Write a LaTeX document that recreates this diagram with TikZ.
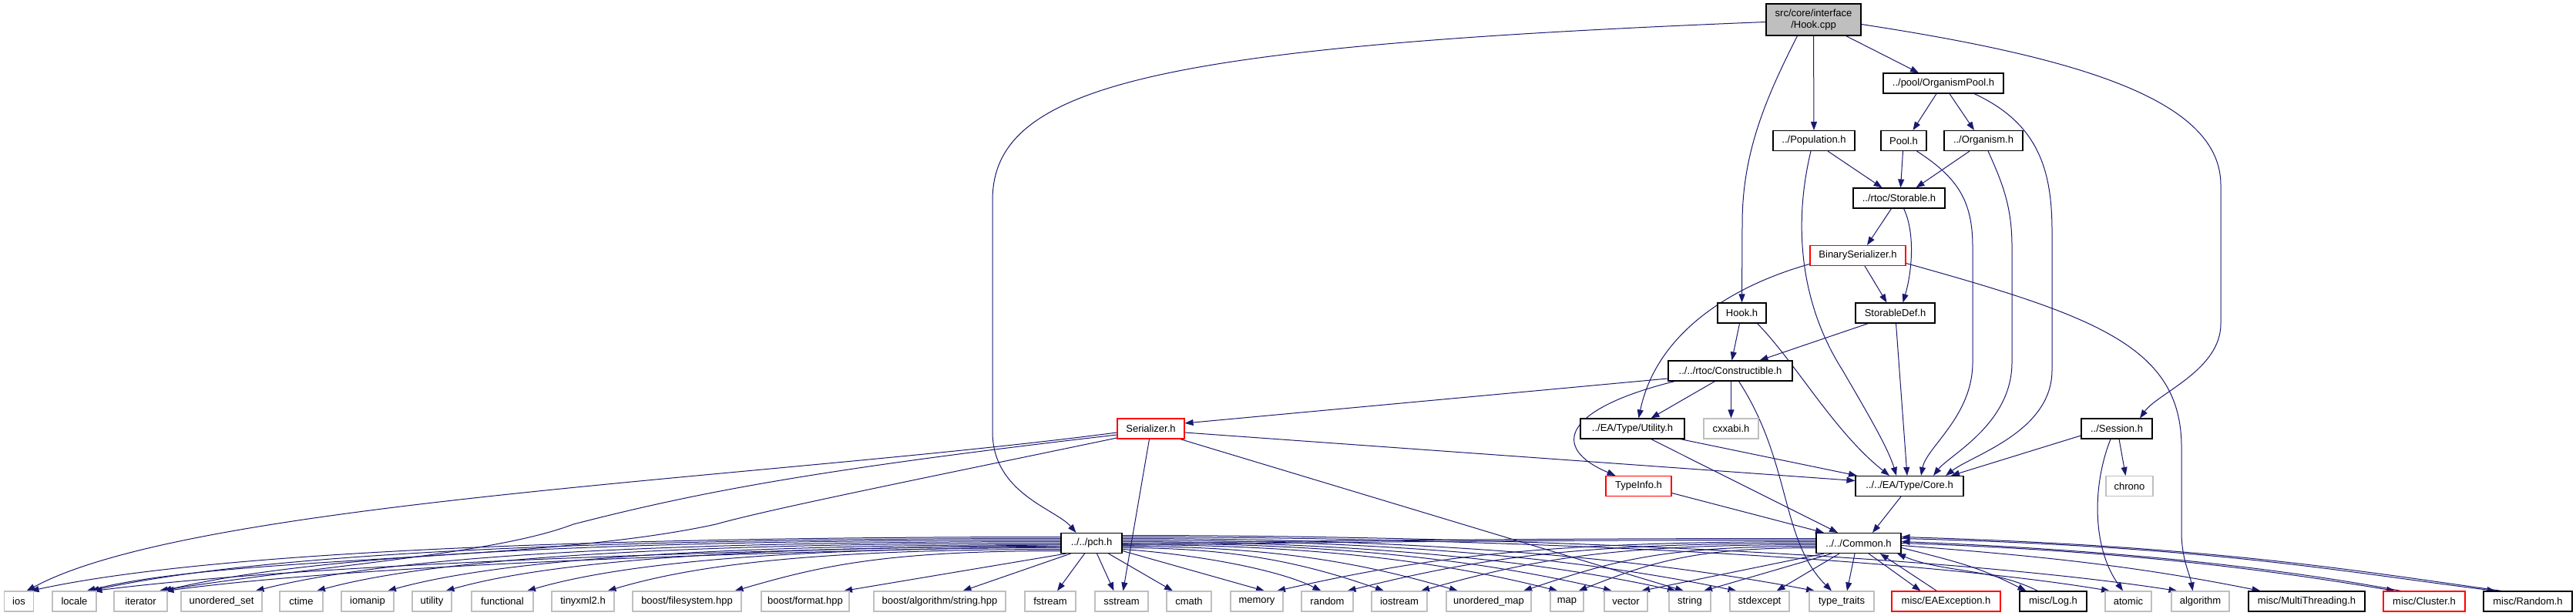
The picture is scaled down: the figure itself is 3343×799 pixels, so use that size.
\documentclass[tikz,border=0pt]{standalone}
\usepackage{fontspec}
\setmainfont{Liberation Sans}
\usetikzlibrary{arrows.meta}
\definecolor{edgec}{HTML}{191970}
\definecolor{grayb}{HTML}{BFBFBF}
\pgfdeclarelayer{bg}
\pgfsetlayers{bg,main}
\tikzset{
 hdr/.style={draw=black, line width=1.1pt, fill=white, rectangle, inner sep=0pt, minimum height=26pt, font=\fontsize{13}{15}\selectfont},
 sys/.style={hdr, draw=grayb},
 trunc/.style={hdr, draw=red},
 e/.style={draw=edgec, line width=1pt, -{Triangle[length=11pt,width=8pt]}},
}
\begin{document}
\begin{tikzpicture}[x=1pt,y=-1pt]
\useasboundingbox (0,0) rectangle (3343,799);
% upper nodes
\node[hdr, fill=grayb, minimum width=123pt, minimum height=41pt, align=center] (hookcpp) at (2353.5,25.5) {src/core/interface\\/Hook.cpp};
\node[hdr, minimum width=156pt] (opool) at (2522,108) {../pool/OrganismPool.h};
\node[hdr, minimum width=106pt] (pop) at (2354,182.5) {../Population.h};
\node[hdr, minimum width=59pt] (pool) at (2470.5,182.5) {Pool.h};
\node[hdr, minimum width=102pt] (organism) at (2574,182.5) {../Organism.h};
\node[hdr, minimum width=119pt] (storable) at (2464.5,257) {../rtoc/Storable.h};
\node[trunc, minimum width=124pt] (binser) at (2411,331.5) {BinarySerializer.h};
\node[hdr, minimum width=63pt] (hookh) at (2260.5,406) {Hook.h};
\node[hdr, minimum width=103pt] (storabledef) at (2459.5,406) {StorableDef.h};
\node[hdr, minimum width=161pt] (constr) at (2245.5,481) {../../rtoc/Constructible.h};
\node[trunc, minimum width=87pt] (serializer) at (1493.5,556) {Serializer.h};
\node[hdr, minimum width=135pt] (utilh) at (2118.5,556) {../EA/Type/Utility.h};
\node[sys, minimum width=71pt] (cxxabi) at (2246.5,556) {cxxabi.h};
\node[hdr, minimum width=92pt] (session) at (2747,556) {../Session.h};
\node[trunc, minimum width=85pt] (typeinfo) at (2126.5,630.5) {TypeInfo.h};
\node[hdr, minimum width=140pt] (core) at (2478,630.5) {../../EA/Type/Core.h};
\node[sys, minimum width=61pt] (chrono) at (2763.5,630.5) {chrono};
\node[hdr, minimum width=79pt] (pch) at (1416.5,704.5) {../../pch.h};
\node[hdr, minimum width=110pt] (common) at (2412,704.5) {../../Common.h};
% bottom row
\node[sys, minimum width=38pt] (ios) at (24.5,780) {ios};
\node[sys, minimum width=57pt] (locale) at (96.5,780) {locale};
\node[sys, minimum width=69pt] (iter) at (182.5,780) {iterator};
\node[sys, minimum width=105pt] (uset) at (287.5,780) {unordered\_set};
\node[sys, minimum width=56pt] (ctime) at (391,780) {ctime};
\node[sys, minimum width=68pt] (iomanip) at (477,780) {iomanip};
\node[sys, minimum width=51pt] (util) at (560.5,780) {utility};
\node[sys, minimum width=80pt] (func) at (652,780) {functional};
\node[sys, minimum width=81pt] (tinyxml) at (756.5,780) {tinyxml2.h};
\node[sys, minimum width=141pt] (bfs) at (891.5,780) {boost/filesystem.hpp};
\node[sys, minimum width=114pt] (bfmt) at (1045,780) {boost/format.hpp};
\node[sys, minimum width=171pt] (balg) at (1219.5,780) {boost/algorithm/string.hpp};
\node[sys, minimum width=66pt] (fstream) at (1363,780) {fstream};
\node[sys, minimum width=69pt] (sstream) at (1455.5,780) {sstream};
\node[sys, minimum width=58pt] (cmath) at (1543,780) {cmath};
\node[sys, minimum width=68pt] (memory) at (1631,780) {memory};
\node[sys, minimum width=67pt] (random) at (1722.5,780) {random};
\node[sys, minimum width=72pt] (iostream) at (1816,780) {iostream};
\node[sys, minimum width=110pt] (umap) at (1932,780) {unordered\_map};
\node[sys, minimum width=43pt] (map) at (2033.5,780) {map};
\node[sys, minimum width=56pt] (vector) at (2110,780) {vector};
\node[sys, minimum width=54pt] (string) at (2193,780) {string};
\node[sys, minimum width=77pt] (stdexcept) at (2283.5,780) {stdexcept};
\node[sys, minimum width=84pt] (ttraits) at (2390,780) {type\_traits};
\node[trunc, minimum width=141pt] (eaexc) at (2525.5,780) {misc/EAException.h};
\node[hdr, minimum width=87pt] (log) at (2664.5,780) {misc/Log.h};
\node[sys, minimum width=60pt] (atomic) at (2762,780) {atomic};
\node[sys, minimum width=75pt] (algorithm) at (2855.5,780) {algorithm};
\node[hdr, minimum width=151pt] (mthr) at (2993.5,780) {misc/MultiThreading.h};
\node[trunc, minimum width=106pt] (cluster) at (3146,780) {misc/Cluster.h};
\node[hdr, minimum width=115pt] (mrandom) at (3280.5,780) {misc/Random.h};

\begin{pgfonlayer}{bg}
% Hook.cpp
\draw[e] ([yshift=-3pt]hookcpp.west) .. controls (1500,60) and (1288,110) .. (1288,260) -- (1288,560) .. controls (1288,640) and (1370,660) .. ([xshift=-20pt]pch.north);
\draw[e] ([xshift=-21pt]hookcpp.south) .. controls (2290,130) and (2261,200) .. (2261,290) -- (hookh.north);
\draw[e] (hookcpp.south) -- (pop.north);
\draw[e] ([xshift=42pt]hookcpp.south) -- ([xshift=-32pt]opool.north);
\draw[e] ([yshift=-6pt]hookcpp.east) .. controls (2700,75) and (2882,130) .. (2882,240) -- (2882,420) .. controls (2882,480) and (2800,510) .. ([xshift=30pt]session.north);
% OrganismPool
\draw[e] ([xshift=-9pt]opool.south) -- ([xshift=12pt]pool.north);
\draw[e] ([xshift=8pt]opool.south) -- ([xshift=-12pt]organism.north);
\draw[e] ([xshift=40pt]opool.south) .. controls (2645,160) and (2663,220) .. (2663,300) -- (2663,480) .. controls (2663,560) and (2560,590) .. ([xshift=47pt]core.north);
% Population
\draw[e] ([xshift=18pt]pop.south) -- ([xshift=-22pt]storable.north);
\draw[e] ([xshift=-4pt]pop.south) .. controls (2325,300) and (2340,400) .. (2391,480) .. controls (2420,530) and (2450,580) .. ([xshift=-17pt]core.north);
% Pool
\draw[e] ([xshift=-1pt]pool.south) -- ([xshift=2pt]storable.north);
\draw[e] ([xshift=17pt]pool.south) .. controls (2540,230) and (2560,260) .. (2560,320) -- (2560,470) .. controls (2560,540) and (2500,580) .. ([xshift=15pt]core.north);
% Organism
\draw[e] ([xshift=-18pt]organism.south) -- ([xshift=22pt]storable.north);
\draw[e] ([xshift=6pt]organism.south) .. controls (2600,240) and (2611,270) .. (2611,320) -- (2611,470) .. controls (2611,550) and (2530,590) .. ([xshift=31pt]core.north);
% Storable
\draw[e] ([xshift=-10pt]storable.south) -- ([xshift=12pt]binser.north);
\draw[e] ([xshift=6pt]storable.south) .. controls (2485,300) and (2482,350) .. ([xshift=10pt]storabledef.north);
% BinarySerializer
\draw[e] ([xshift=9pt]binser.south) -- ([xshift=-11pt]storabledef.north);
\draw[e] ([yshift=-11pt]binser.west) .. controls (2250,370) and (2150,430) .. ([xshift=8pt]utilh.north);
\draw[e] ([yshift=-10pt]binser.east) .. controls (2720,410) and (2831,450) .. (2831,580) -- (2831,690) .. controls (2831,725) and (2842,745) .. ([xshift=-10pt]algorithm.north);
% Hook.h
\draw[e] ([xshift=-3pt]hookh.south) -- ([xshift=2pt]constr.north);
\draw[e] ([xshift=20pt]hookh.south) .. controls (2330,470) and (2380,560) .. ([xshift=-26pt]core.north);
% StorableDef
\draw[e] ([xshift=-35pt]storabledef.south) -- ([xshift=38pt]constr.north);
\draw[e] ([xshift=1pt]storabledef.south) -- ([xshift=-3pt]core.north);
% Constructible
\draw[e] ([yshift=-10pt]constr.west) -- ([yshift=7pt]serializer.east);
\draw[e] ([xshift=-20pt]constr.south) -- ([xshift=24pt]utilh.north);
\draw[e] ([xshift=-72pt]constr.south) .. controls (2030,530) and (2010,580) .. ([xshift=-30pt]typeinfo.north);
\draw[e] ([xshift=1pt]constr.south) -- (cxxabi.north);
\draw[e] ([xshift=11pt]constr.south) .. controls (2325,600) and (2310,700) .. ([xshift=-13pt]ttraits.north);
% Serializer
\draw[e] ([yshift=-5pt]serializer.east) -- ([yshift=7pt]core.west);
\draw[e] ([yshift=-5pt]serializer.west) .. controls (1000,620) and (250,650) .. ([xshift=10pt]ios.north);
\draw[e] ([yshift=-8pt]serializer.west) .. controls (1050,610) and (900,640) .. (744,680) .. controls (640,720) and (400,735) .. ([xshift=24pt]iter.north);
\draw[e] ([yshift=-12pt]serializer.west) .. controls (1200,620) and (1000,660) .. (929,680) .. controls (700,730) and (300,720) .. ([xshift=16pt]locale.north);
\draw[e] ([xshift=-2pt]serializer.south) -- ([xshift=2pt]sstream.north);
\draw[e] ([xshift=38pt]serializer.south) -- ([xshift=-8pt]string.north);
% Utility.h, TypeInfo.h, Core.h
\draw[e] ([xshift=62pt]utilh.south) -- ([xshift=-68pt]core.north);
\draw[e] ([xshift=24pt]utilh.south) -- ([xshift=-27pt]common.north);
\draw[e] ([yshift=-9pt]typeinfo.east) -- ([xshift=-45pt]common.north);
\draw[e] ([xshift=-11pt]core.south) -- ([xshift=18pt]common.north);
% Session
\draw[e] ([yshift=-9pt]session.west) -- ([xshift=54pt]core.north);
\draw[e] ([xshift=3pt]session.south) -- ([xshift=-5pt]chrono.north);
\draw[e] ([xshift=-8pt]session.south) .. controls (2715,630) and (2715,710) .. ([xshift=-7pt]atomic.north);
% pch left
\draw[e] ([yshift=8pt]pch.west) .. controls +(-650,0) and +(220,-48) .. ([xshift=15pt]ios.north);
\draw[e] ([yshift=6pt]pch.west) .. controls +(-620,0) and +(220,-48) .. ([xshift=21pt]locale.north);
\draw[e] ([yshift=4pt]pch.west) .. controls +(-580,0) and +(200,-48) .. ([xshift=29pt]iter.north);
\draw[e] ([yshift=2pt]pch.west) .. controls +(-520,0) and +(180,-46) .. ([xshift=44pt]uset.north);
\draw[e] ([yshift=0pt]pch.west) .. controls +(-480,0) and +(160,-44) .. ([xshift=20pt]ctime.north);
\draw[e] ([yshift=-2pt]pch.west) .. controls +(-430,0) and +(150,-42) .. ([xshift=26pt]iomanip.north);
\draw[e] ([yshift=-4pt]pch.west) .. controls +(-390,0) and +(140,-40) .. ([xshift=18pt]util.north);
\draw[e] ([yshift=-6pt]pch.west) .. controls +(-340,0) and +(130,-38) .. ([xshift=32pt]func.north);
\draw[e] ([yshift=-8pt]pch.west) .. controls +(-300,0) and +(120,-36) .. ([xshift=32pt]tinyxml.north);
\draw[e] ([yshift=-10pt]pch.west) .. controls +(-230,0) and +(110,-32) .. ([xshift=62pt]bfs.north);
\draw[e] ([xshift=-33pt]pch.south) -- ([xshift=50pt]bfmt.north);
\draw[e] ([xshift=-27pt]pch.south) -- ([xshift=30pt]balg.north);
\draw[e] ([xshift=-9pt]pch.south) -- ([xshift=9pt]fstream.north);
\draw[e] ([xshift=7pt]pch.south) -- ([xshift=-10pt]sstream.north);
\draw[e] ([xshift=22pt]pch.south) -- ([xshift=-21pt]cmath.north);
% pch right
\draw[e] ([yshift=-10pt]pch.east) -- ([xshift=10pt]memory.north);
\draw[e] ([yshift=-8pt]pch.east) .. controls +(80,5) and +(-60,-30) .. ([xshift=-8pt]random.north);
\draw[e] ([yshift=-6pt]pch.east) .. controls +(150,0) and +(-100,-35) .. ([xshift=-20pt]iostream.north);
\draw[e] ([yshift=-4pt]pch.east) .. controls +(200,0) and +(-120,-35) .. ([xshift=-40pt]umap.north);
\draw[e] ([yshift=-2pt]pch.east) .. controls +(250,0) and +(-150,-38) .. ([xshift=-12pt]map.north);
\draw[e] ([yshift=0pt]pch.east) .. controls +(280,0) and +(-170,-40) .. ([xshift=-18pt]vector.north);
\draw[e] ([yshift=2pt]pch.east) .. controls +(300,0) and +(-180,-40) .. ([xshift=-18pt]string.north);
\draw[e] ([yshift=4pt]pch.east) .. controls +(350,0) and +(-200,-42) .. ([xshift=-30pt]stdexcept.north);
\draw[e] ([yshift=6pt]pch.east) .. controls +(400,0) and +(-220,-42) .. ([xshift=-35pt]ttraits.north);
\draw[e] ([yshift=8pt]pch.east) .. controls +(500,0) and +(-250,-42) .. ([xshift=-24pt]atomic.north);
\draw[e] ([yshift=10pt]pch.east) .. controls +(550,0) and +(-270,-42) .. ([xshift=-30pt]algorithm.north);
% Common left
\draw[e] ([yshift=6pt]common.west) .. controls +(-900,0) and +(400,-50) .. ([xshift=25pt]locale.north);
\draw[e] ([yshift=4pt]common.west) .. controls +(-850,0) and +(380,-50) .. ([xshift=32pt]iter.north);
\draw[e] ([yshift=2pt]common.west) .. controls +(-350,0) and +(200,-45) .. ([xshift=26pt]memory.north);
\draw[e] ([yshift=0pt]common.west) .. controls +(-300,0) and +(180,-45) .. ([xshift=26pt]random.north);
\draw[e] ([yshift=-2pt]common.west) .. controls +(-250,0) and +(160,-45) .. ([xshift=28pt]iostream.north);
\draw[e] ([yshift=-4pt]common.west) .. controls +(-200,0) and +(120,-40) .. ([xshift=45pt]umap.north);
\draw[e] ([yshift=-6pt]common.west) .. controls +(-150,0) and +(100,-40) .. ([xshift=15pt]map.north);
\draw[e] ([xshift=-45pt]common.south) -- ([xshift=20pt]vector.north);
\draw[e] ([xshift=-35pt]common.south) -- ([xshift=18pt]string.north);
\draw[e] ([xshift=-25pt]common.south) -- ([xshift=22pt]stdexcept.north);
\draw[e] ([xshift=-5pt]common.south) -- ([xshift=7pt]ttraits.north);
% Common right and back edges
\draw[e] ([xshift=13pt]common.south) -- ([xshift=-33pt]eaexc.north);
\draw[e] ([xshift=-12pt]eaexc.north) -- ([xshift=28pt]common.south);
\draw[e] ([yshift=-6pt]common.east) .. controls +(80,20) and +(-60,-30) .. ([xshift=-35pt]log.north);
\draw[e] ([xshift=-20pt]log.north) .. controls +(-60,-30) and +(60,25) .. ([xshift=50pt]common.south);
\draw[e] ([yshift=-3pt]common.east) .. controls +(200,15) and +(-150,-30) .. ([xshift=-60pt]mthr.north);
\draw[e] ([yshift=0pt]common.east) .. controls +(300,10) and +(-150,-25) .. ([xshift=-38pt]cluster.north);
\draw[e] ([xshift=-30pt]cluster.north) .. controls +(-150,-28) and +(300,12) .. ([yshift=2pt]common.east);
\draw[e] ([yshift=6pt]common.east) .. controls +(400,10) and +(-200,-25) .. ([xshift=-42pt]mrandom.north);
\draw[e] ([xshift=-34pt]mrandom.north) .. controls +(-200,-28) and +(400,12) .. ([yshift=8pt]common.east);
\end{pgfonlayer}
\end{tikzpicture}
\end{document}
